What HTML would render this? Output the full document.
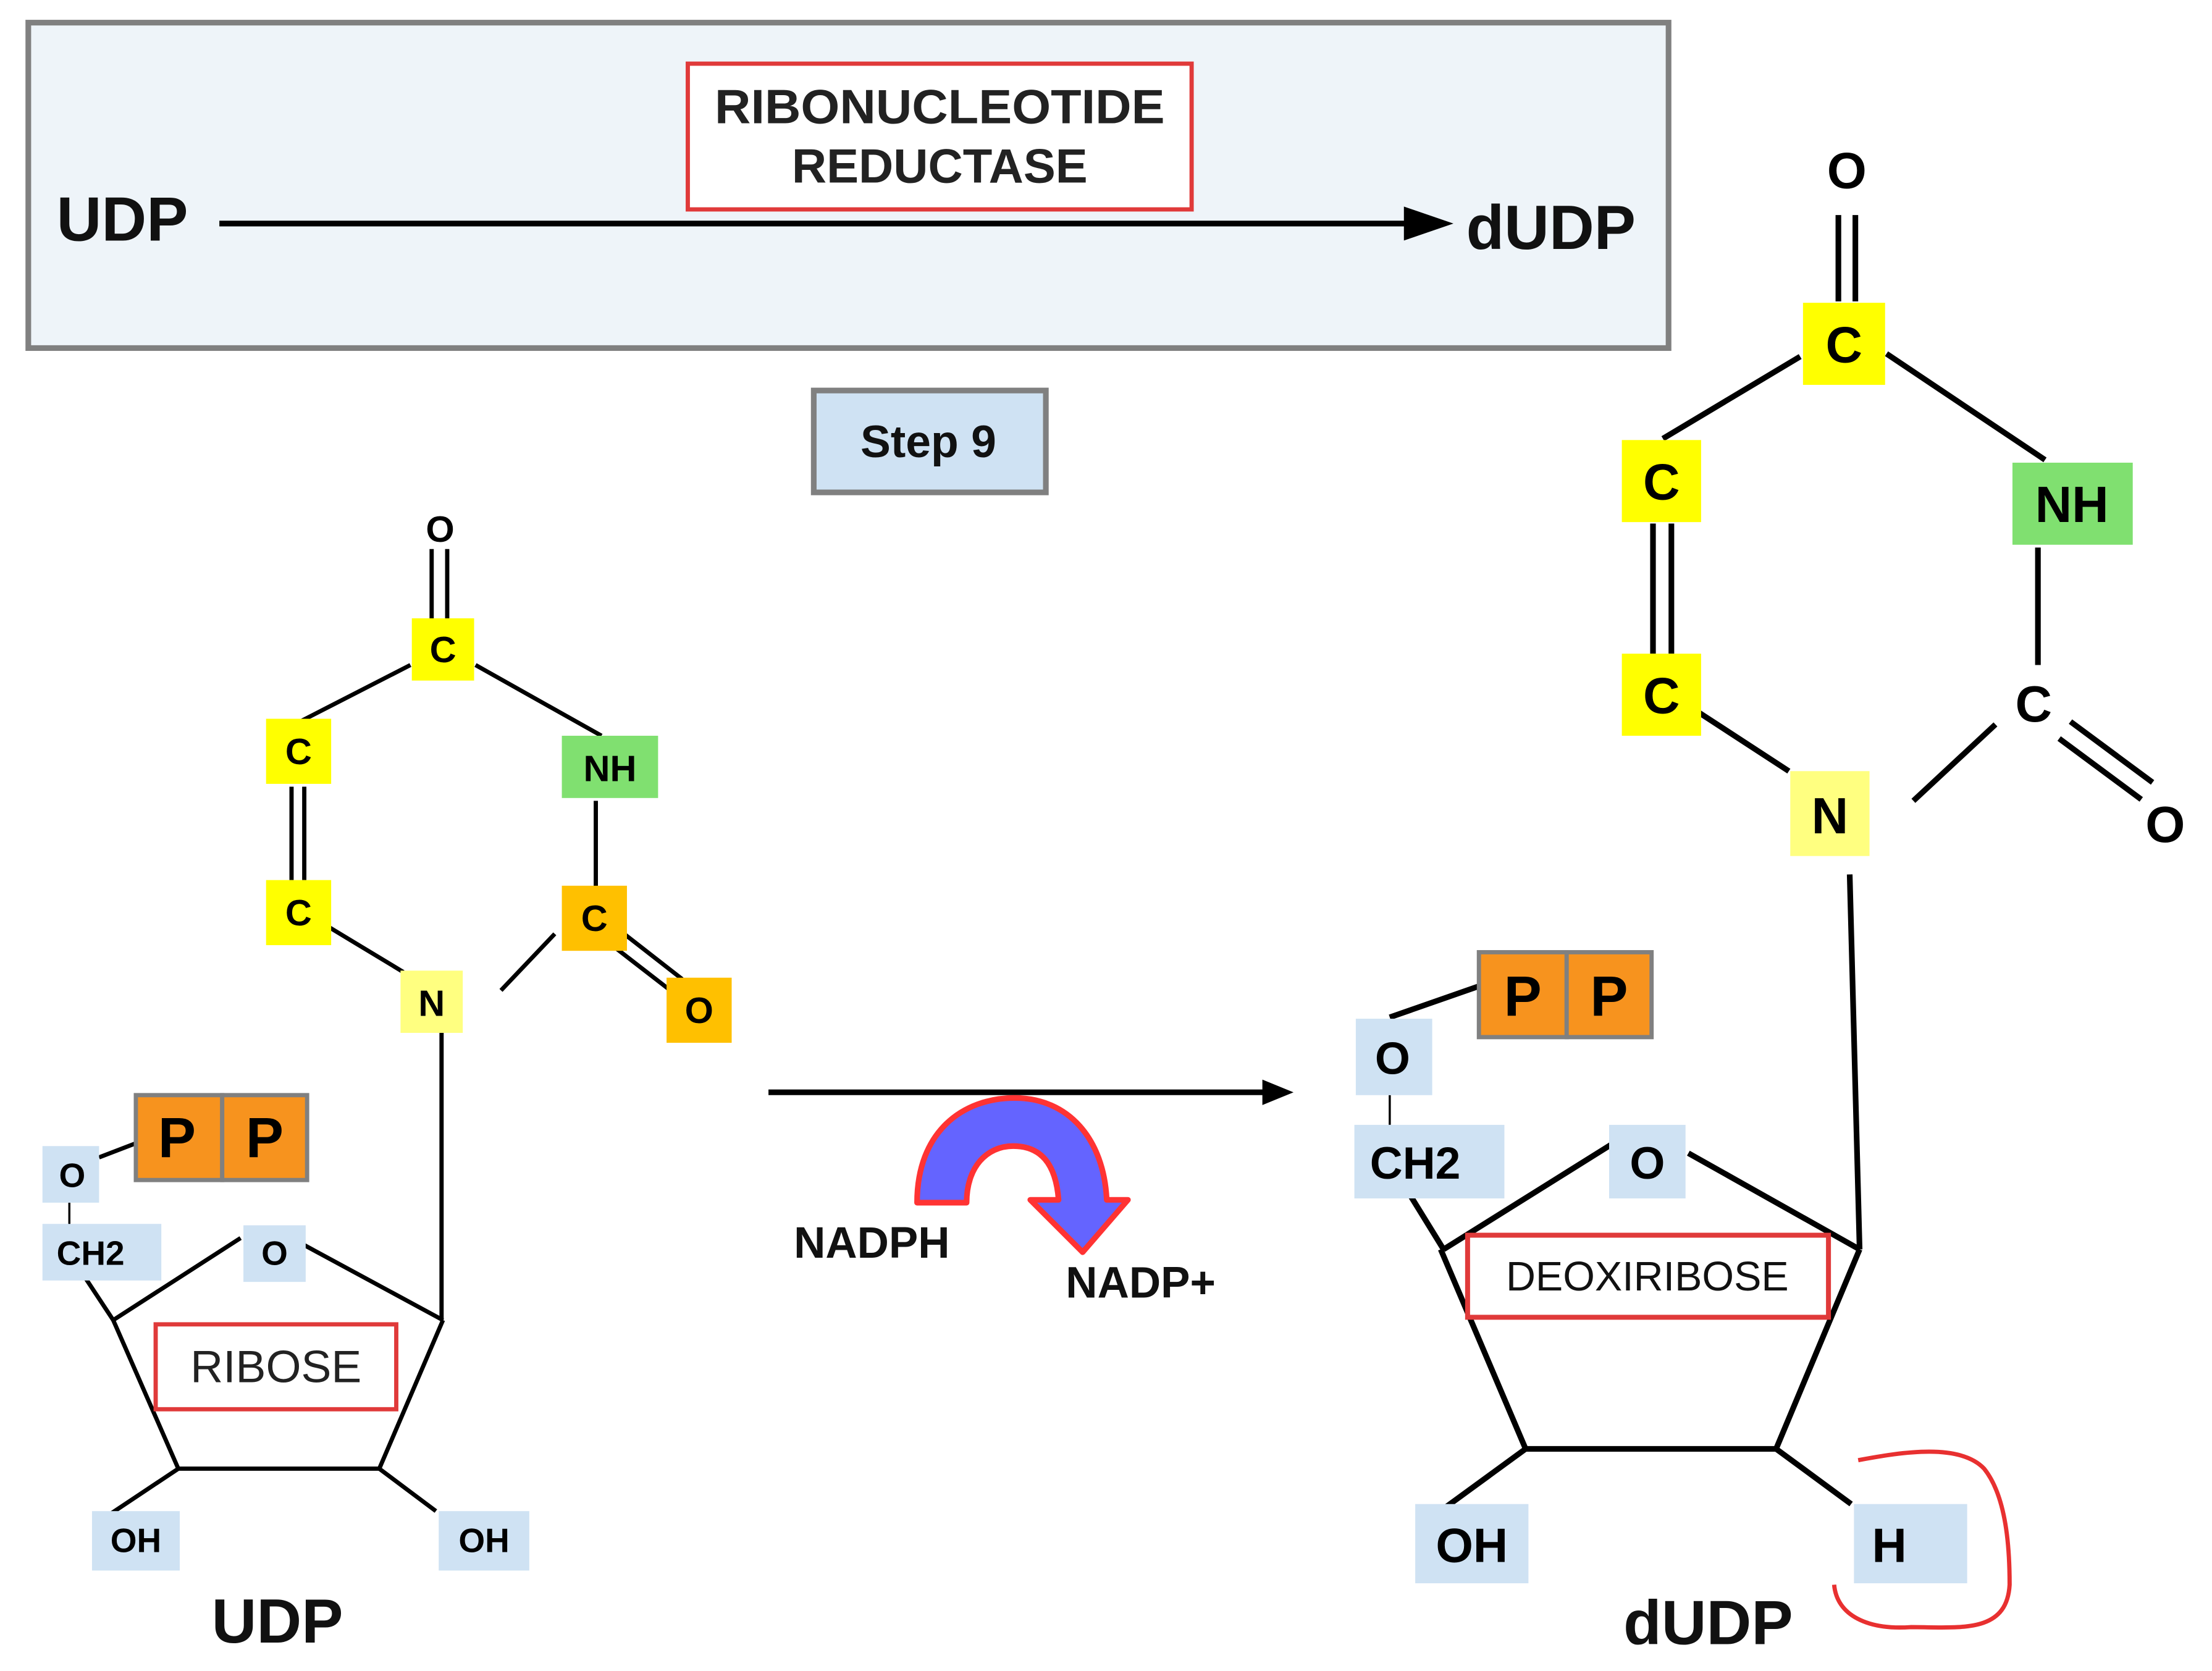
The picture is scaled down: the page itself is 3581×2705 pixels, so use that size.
<!DOCTYPE html>
<html><head><meta charset="utf-8"><style>
html,body{margin:0;padding:0;background:#fff;}
svg{display:block;}
text{font-family:"Liberation Sans",Arial,sans-serif;}
</style></head><body>
<svg width="3581" height="2705" viewBox="0 0 1563 1181" preserveAspectRatio="none" xmlns="http://www.w3.org/2000/svg">
<!-- top box -->
<rect x="20" y="16" width="1159" height="230" fill="#eef4f9" stroke="#808080" stroke-width="4"/>
<rect x="486" y="45" width="356" height="103" fill="#fff" stroke="#e03a3a" stroke-width="3"/>
<text x="664" y="87" font-size="34" font-weight="bold" text-anchor="middle" fill="#222" textLength="318" lengthAdjust="spacingAndGlyphs">RIBONUCLEOTIDE</text>
<text x="664" y="129" font-size="34" font-weight="bold" text-anchor="middle" fill="#222">REDUCTASE</text>
<text x="40" y="170" font-size="44" font-weight="bold" fill="#111">UDP</text>
<line x1="155" y1="158" x2="995" y2="158" stroke="#000" stroke-width="4"/>
<path d="M992,146 L1027,158 L992,170 Z" fill="#000"/>
<text x="1036" y="176" font-size="44" font-weight="bold" fill="#111">dUDP</text>
<!-- step 9 -->
<rect x="575" y="276" width="164" height="72" fill="#cfe2f3" stroke="#808080" stroke-width="4"/>
<text x="656" y="323" font-size="32" font-weight="bold" text-anchor="middle" fill="#111">Step 9</text>

<!-- LEFT MOLECULE -->
<g stroke="#000" stroke-width="3" fill="none">
<line x1="305" y1="388" x2="305" y2="438"/><line x1="316" y1="388" x2="316" y2="438"/>
<line x1="290" y1="470" x2="212" y2="510"/>
<line x1="336" y1="470" x2="425" y2="520"/>
<line x1="206" y1="556" x2="206" y2="622"/><line x1="215" y1="556" x2="215" y2="622"/>
<line x1="232" y1="655" x2="285" y2="687"/>
<line x1="421" y1="566" x2="421" y2="628"/>
<line x1="392" y1="660" x2="354" y2="700"/>
<line x1="441" y1="660" x2="482" y2="692"/><line x1="435" y1="670" x2="475" y2="701"/>
<line x1="312" y1="730" x2="312" y2="933"/>
<line x1="80" y1="933" x2="170" y2="875"/>
<line x1="215" y1="880" x2="313" y2="933"/>
<line x1="313" y1="933" x2="268" y2="1038"/>
<line x1="268" y1="1038" x2="126" y2="1038"/>
<line x1="126" y1="1038" x2="80" y2="933"/>
<line x1="126" y1="1038" x2="78" y2="1070"/>
<line x1="268" y1="1038" x2="308" y2="1068"/>
<line x1="45" y1="880" x2="80" y2="933"/>
<line x1="70" y1="818" x2="96" y2="808"/>
<line x1="49" y1="850" x2="49" y2="866" stroke-width="1.5"/>
</g>
<rect x="291" y="437" width="44" height="44" fill="#ffff00"/>
<text x="313" y="468" font-size="26" font-weight="bold" text-anchor="middle">C</text>
<text x="311" y="383" font-size="26" font-weight="bold" text-anchor="middle">O</text>
<rect x="188" y="508" width="46" height="46" fill="#ffff00"/>
<text x="211" y="540" font-size="26" font-weight="bold" text-anchor="middle">C</text>
<rect x="188" y="622" width="46" height="46" fill="#ffff00"/>
<text x="211" y="654" font-size="26" font-weight="bold" text-anchor="middle">C</text>
<rect x="397" y="520" width="68" height="44" fill="#80e070"/>
<text x="431" y="552" font-size="26" font-weight="bold" text-anchor="middle">NH</text>
<rect x="283" y="686" width="44" height="44" fill="#ffff80"/>
<text x="305" y="718" font-size="26" font-weight="bold" text-anchor="middle">N</text>
<rect x="397" y="626" width="46" height="46" fill="#ffc000"/>
<text x="420" y="658" font-size="26" font-weight="bold" text-anchor="middle">C</text>
<rect x="471" y="691" width="46" height="46" fill="#ffc000"/>
<text x="494" y="723" font-size="26" font-weight="bold" text-anchor="middle">O</text>
<rect x="30" y="810" width="40" height="40" fill="#cfe2f3"/>
<text x="51" y="839" font-size="24" font-weight="bold" text-anchor="middle">O</text>
<rect x="30" y="865" width="84" height="40" fill="#cfe2f3"/>
<text x="40" y="894" font-size="24" font-weight="bold">CH2</text>
<rect x="172" y="866" width="44" height="40" fill="#cfe2f3"/>
<text x="194" y="894" font-size="24" font-weight="bold" text-anchor="middle">O</text>
<rect x="96" y="774" width="61" height="60" fill="#f7931e" stroke="#808080" stroke-width="3"/>
<rect x="157" y="774" width="60" height="60" fill="#f7931e" stroke="#808080" stroke-width="3"/>
<text x="125" y="818" font-size="40" font-weight="bold" text-anchor="middle">P</text>
<text x="187" y="818" font-size="40" font-weight="bold" text-anchor="middle">P</text>
<rect x="110" y="936" width="170" height="60" fill="#fff" stroke="#e03a3a" stroke-width="3"/>
<text x="195" y="977" font-size="32" text-anchor="middle" fill="#222">RIBOSE</text>
<rect x="65" y="1068" width="62" height="42" fill="#cfe2f3"/>
<text x="96" y="1097" font-size="24" font-weight="bold" text-anchor="middle">OH</text>
<rect x="310" y="1068" width="64" height="42" fill="#cfe2f3"/>
<text x="342" y="1097" font-size="24" font-weight="bold" text-anchor="middle">OH</text>
<text x="196" y="1161" font-size="44" font-weight="bold" text-anchor="middle" fill="#111">UDP</text>

<!-- MIDDLE -->
<line x1="543" y1="772" x2="895" y2="772" stroke="#000" stroke-width="4"/>
<path d="M892,763 L914,772 L892,781 Z" fill="#000"/>
<path d="M648,850 C648,800 680,776 717,776 C755,776 780,805 782,848 L797,848 L765,885 L728,848 L748,848 C746,822 735,810 716,810 C697,810 683,825 683,850 Z" fill="#6464ff" stroke="#ff3333" stroke-width="4" stroke-linejoin="round"/>
<text x="616" y="889" font-size="31" font-weight="bold" text-anchor="middle" fill="#111">NADPH</text>
<text x="806" y="917" font-size="31" font-weight="bold" text-anchor="middle" fill="#111">NADP+</text>

<!-- RIGHT MOLECULE -->
<g stroke="#000" stroke-width="4" fill="none">
<line x1="1299" y1="152" x2="1299" y2="213"/><line x1="1311" y1="152" x2="1311" y2="213"/>
<line x1="1272" y1="252" x2="1175" y2="310"/>
<line x1="1333" y1="250" x2="1445" y2="325"/>
<line x1="1168" y1="370" x2="1168" y2="462"/><line x1="1181" y1="370" x2="1181" y2="462"/>
<line x1="1198" y1="502" x2="1264" y2="545"/>
<line x1="1440" y1="387" x2="1440" y2="470"/>
<line x1="1410" y1="512" x2="1352" y2="566"/>
<line x1="1463" y1="510" x2="1521" y2="553"/><line x1="1455" y1="522" x2="1513" y2="565"/>
<line x1="1307" y1="618" x2="1314" y2="883"/>
<line x1="1020" y1="883" x2="1140" y2="808"/>
<line x1="1193" y1="815" x2="1314" y2="883"/>
<line x1="1314" y1="883" x2="1255" y2="1024"/>
<line x1="1255" y1="1024" x2="1078" y2="1024"/>
<line x1="1078" y1="1024" x2="1018" y2="883"/>
<line x1="975" y1="810" x2="1020" y2="883"/>
<line x1="1078" y1="1024" x2="1015" y2="1070"/>
<line x1="1255" y1="1024" x2="1308" y2="1063"/>
<line x1="982" y1="719" x2="1045" y2="697"/>
<line x1="982" y1="774" x2="982" y2="795" stroke-width="1.5"/>
</g>
<text x="1305" y="133" font-size="36" font-weight="bold" text-anchor="middle">O</text>
<rect x="1274" y="214" width="58" height="58" fill="#ffff00"/>
<text x="1303" y="256" font-size="36" font-weight="bold" text-anchor="middle">C</text>
<rect x="1146" y="311" width="56" height="58" fill="#ffff00"/>
<text x="1174" y="353" font-size="36" font-weight="bold" text-anchor="middle">C</text>
<rect x="1146" y="462" width="56" height="58" fill="#ffff00"/>
<text x="1174" y="504" font-size="36" font-weight="bold" text-anchor="middle">C</text>
<rect x="1422" y="327" width="85" height="58" fill="#80e070"/>
<text x="1464" y="369" font-size="36" font-weight="bold" text-anchor="middle">NH</text>
<rect x="1265" y="545" width="56" height="60" fill="#ffff80"/>
<text x="1293" y="589" font-size="36" font-weight="bold" text-anchor="middle">N</text>
<text x="1437" y="510" font-size="36" font-weight="bold" text-anchor="middle">C</text>
<text x="1530" y="595" font-size="36" font-weight="bold" text-anchor="middle">O</text>
<rect x="1045" y="673" width="62" height="60" fill="#f7931e" stroke="#808080" stroke-width="3"/>
<rect x="1107" y="673" width="60" height="60" fill="#f7931e" stroke="#808080" stroke-width="3"/>
<text x="1076" y="718" font-size="40" font-weight="bold" text-anchor="middle">P</text>
<text x="1137" y="718" font-size="40" font-weight="bold" text-anchor="middle">P</text>
<rect x="958" y="720" width="54" height="54" fill="#cfe2f3"/>
<text x="984" y="759" font-size="32" font-weight="bold" text-anchor="middle">O</text>
<rect x="957" y="795" width="106" height="52" fill="#cfe2f3"/>
<text x="968" y="833" font-size="32" font-weight="bold">CH2</text>
<rect x="1137" y="795" width="54" height="52" fill="#cfe2f3"/>
<text x="1164" y="833" font-size="32" font-weight="bold" text-anchor="middle">O</text>
<rect x="1037" y="873" width="255" height="58" fill="#fff" stroke="#e03a3a" stroke-width="3.5"/>
<text x="1164" y="912" font-size="29" text-anchor="middle" fill="#111">DEOXIRIBOSE</text>
<rect x="1000" y="1063" width="80" height="56" fill="#cfe2f3"/>
<text x="1040" y="1104" font-size="34" font-weight="bold" text-anchor="middle">OH</text>
<rect x="1310" y="1063" width="80" height="56" fill="#cfe2f3"/>
<text x="1335" y="1104" font-size="34" font-weight="bold" text-anchor="middle">H</text>
<text x="1207" y="1162" font-size="44" font-weight="bold" text-anchor="middle" fill="#111">dUDP</text>
<path d="M1313,1032 C1345,1026 1385,1020 1402,1038 C1418,1058 1420,1095 1420,1120 C1418,1155 1385,1150 1350,1150 C1320,1152 1298,1142 1296,1120" fill="none" stroke="#e83030" stroke-width="3"/>
</svg>
</body></html>
